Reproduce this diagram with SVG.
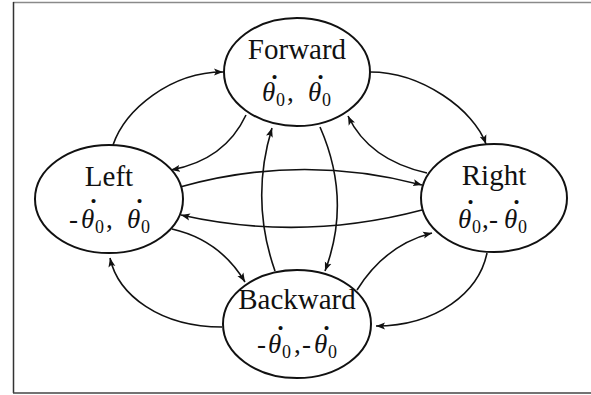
<svg xmlns="http://www.w3.org/2000/svg" width="591" height="395" viewBox="0 0 591 395">
<defs>
<marker id="ah" markerUnits="userSpaceOnUse" markerWidth="10" markerHeight="8" refX="9" refY="4" orient="auto">
<path d="M0,0.5 L9,4 L0,7.5 L2,4 z" fill="#111"/>
</marker>
<style>
.node ellipse{fill:#fff;stroke:#111;stroke-width:2}
.ttl{font-family:"Liberation Serif","Times New Roman",serif;font-size:29px;text-anchor:middle;fill:#111}
.m{font-family:"Liberation Serif","Times New Roman",serif;font-size:27px;fill:#111}
.m .th{font-style:italic}
.m .s{font-size:18px}
.m .d{font-weight:bold}
#edges path{fill:none;stroke:#111;stroke-width:1.6;marker-end:url(#ah)}
</style>
</defs>
<rect width="591" height="395" fill="#fff"/>
<g id="frame">
<line x1="13" y1="2.5" x2="591" y2="2.5" stroke="#8a8a8a" stroke-width="1.5"/>
<line x1="13.5" y1="2" x2="13.5" y2="393" stroke="#333" stroke-width="1.5"/>
<line x1="13" y1="393" x2="591" y2="393" stroke="#444" stroke-width="1.5"/>
</g>
<g id="edges">
<path d="M113,145 C125,110 170,72 223,72"/>
<path d="M246,115 Q225,160 171,170"/>
<path d="M370,72 C422,72 474,110 486,144"/>
<path d="M427,173 Q369,160 348,116"/>
<path d="M180,187 Q301,153 422,185"/>
<path d="M422,210 Q301,242 181,215"/>
<path d="M275,271 Q250,200 272,128"/>
<path d="M320,127 Q352,200 325,271"/>
<path d="M172,229 Q220,240 245,282"/>
<path d="M222,327 C160,327 118,295 110,258"/>
<path d="M357,290 Q385,245 432,233"/>
<path d="M487,253 C479,292 437,326 376,326"/>
</g>
<g id="forward" class="node">
<ellipse cx="297" cy="72" rx="73" ry="54"/>
<text class="ttl" x="297" y="59">Forward</text>
<text class="m"><tspan class="th" x="262" y="101">θ</tspan><tspan class="d" x="270" y="94">˙</tspan><tspan class="s" x="276" y="106">0</tspan><tspan x="287" y="101">,</tspan><tspan class="th" x="308">θ</tspan><tspan class="d" x="316" y="94">˙</tspan><tspan class="s" x="322" y="106">0</tspan></text>
</g>
<g id="left" class="node">
<ellipse cx="109" cy="199" rx="74" ry="54"/>
<text class="ttl" x="109" y="186">Left</text>
<text class="m"><tspan x="69" y="228">-</tspan><tspan class="th" x="81">θ</tspan><tspan class="d" x="89" y="218">˙</tspan><tspan class="s" x="95" y="233">0</tspan><tspan x="106" y="228">,</tspan><tspan class="th" x="127">θ</tspan><tspan class="d" x="135" y="218">˙</tspan><tspan class="s" x="141" y="233">0</tspan></text>
</g>
<g id="right" class="node">
<ellipse cx="494" cy="198" rx="73" ry="54"/>
<text class="ttl" x="494" y="185">Right</text>
<text class="m"><tspan class="th" x="458" y="228">θ</tspan><tspan class="d" x="466" y="219">˙</tspan><tspan class="s" x="472" y="233">0</tspan><tspan x="482" y="228">,</tspan><tspan x="489">-</tspan><tspan class="th" x="504">θ</tspan><tspan class="d" x="512" y="219">˙</tspan><tspan class="s" x="518" y="233">0</tspan></text>
</g>
<g id="backward" class="node">
<ellipse cx="297" cy="324" rx="74" ry="54"/>
<text class="ttl" x="297" y="309">Backward</text>
<text class="m"><tspan x="257" y="353">-</tspan><tspan class="th" x="268">θ</tspan><tspan class="d" x="276" y="345">˙</tspan><tspan class="s" x="282" y="358">0</tspan><tspan x="294" y="353">,</tspan><tspan x="302">-</tspan><tspan class="th" x="314">θ</tspan><tspan class="d" x="322" y="345">˙</tspan><tspan class="s" x="328" y="358">0</tspan></text>
</g>
</svg>
